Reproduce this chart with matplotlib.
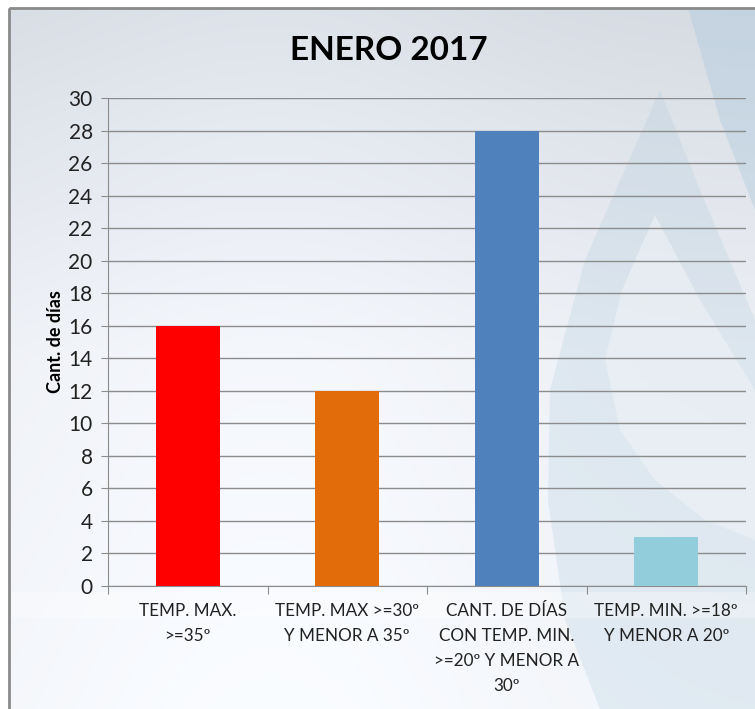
import matplotlib
matplotlib.use("Agg")
import matplotlib.pyplot as plt
import numpy as np
from matplotlib.patches import Polygon, Rectangle

categories = ["TEMP. MAX.\n>=35º",
              "TEMP. MAX >=30º\nY MENOR A 35º",
              "CANT. DE DÍAS\nCON TEMP. MIN.\n>=20º Y MENOR A\n30º",
              "TEMP. MIN. >=18º\nY MENOR A 20º"]
values = [16, 12, 28, 3]
colors = ["#FF0000", "#E36C0A", "#4F81BD", "#92CDDC"]
yticks = list(range(0, 31, 2))
title = "ENERO 2017"
ylabel = "Cant. de días"

plt.rcParams['font.family'] = ['Lato', 'DejaVu Sans']

W, H = 755, 709
fig = plt.figure(figsize=(W/100, H/100), dpi=100)
fig.patch.set_facecolor("white")

bg = fig.add_axes([0, 0, 1, 1], zorder=0)
bg.set_xlim(0, W)
bg.set_ylim(H, 0)
bg.axis("off")

yy = np.linspace(0, 1, 256)[:, None]
top = np.array([0.84, 0.86, 0.89])
mid = np.array([0.93, 0.94, 0.96])
bot = np.array([0.95, 0.96, 0.975])
grad = np.where(yy < 0.5, top + (mid - top) * (yy / 0.5), mid + (bot - mid) * ((yy - 0.5) / 0.5))
xx = np.linspace(0, 1, 256)[None, :]
hx = 0.03 * np.exp(-((xx - 0.35) / 0.35) ** 2)
img = np.clip(grad[:, None, :] * np.ones((1, 256, 1)) + hx[..., None], 0, 1)
bg.imshow(img, extent=[9, W, H, 8], aspect="auto", zorder=0)

wm = "#A4C6DB"
bg.add_patch(Polygon([(688, 8), (W, 8), (W, 210), (720, 120)], closed=True,
                     facecolor=wm, alpha=0.35, edgecolor="none", zorder=1))
outer = [(660, 90), (700, 190), (W, 320), (W, H), (600, H), (565, 620),
         (548, 500), (550, 390), (585, 260)]
bg.add_patch(Polygon(outer, closed=True, facecolor=wm, alpha=0.22,
                     edgecolor="none", zorder=1))
inner = [(655, 215), (700, 300), (W, 390), (W, 540), (705, 520), (655, 480),
         (620, 430), (605, 360), (622, 290)]
bg.add_patch(Polygon(inner, closed=True, facecolor="#F0F3F6", alpha=0.6,
                     edgecolor="none", zorder=2))
bg.add_patch(Rectangle((9, 592), W, 26, facecolor="white", alpha=0.3,
                       edgecolor="none", zorder=2))

bg.add_patch(Rectangle((9, 8), W + 20, H + 20, facecolor="none",
                       edgecolor="#8A8A8A", lw=2, zorder=5))

L, R, T, B = 108, 746, 98, 586
ax = fig.add_axes([L / W, 1 - B / H, (R - L) / W, (B - T) / H], zorder=2)
ax.patch.set_alpha(0)
x = np.arange(len(values))
ax.bar(x, values, width=0.4, color=colors, zorder=3)
ax.set_xlim(-0.5, len(values) - 0.5)
ax.set_ylim(0, 30)
ax.set_yticks(yticks)
ax.set_yticklabels([str(t) for t in yticks], fontsize=15, color="#222222")
ax.yaxis.grid(True, color="#8C8C8C", lw=1, zorder=1)
ax.set_axisbelow(True)
for s in ["top", "right"]:
    ax.spines[s].set_visible(False)
ax.spines["left"].set_color("#8C8C8C")
ax.spines["bottom"].set_color("#8C8C8C")
ax.tick_params(axis="y", length=5, color="#8C8C8C", pad=6)
ax.set_xticks(np.arange(-0.5, len(values), 1.0))
ax.set_xticklabels([])
ax.tick_params(axis="x", length=6, color="#8C8C8C")
for i, c in enumerate(categories):
    ax.annotate(c, xy=(i, 0), xycoords="data", xytext=(0, -17),
                textcoords="offset pixels", ha="center", va="top",
                fontsize=12.3, color="#222222", linespacing=1.68)

ax.set_ylabel(ylabel, fontsize=13, fontweight="bold", labelpad=3)
fig.text(389 / W, 1 - 50 / H, title, ha="center", va="center",
         fontsize=24, fontweight="bold", color="black")

fig.savefig("out.png", dpi=100)
